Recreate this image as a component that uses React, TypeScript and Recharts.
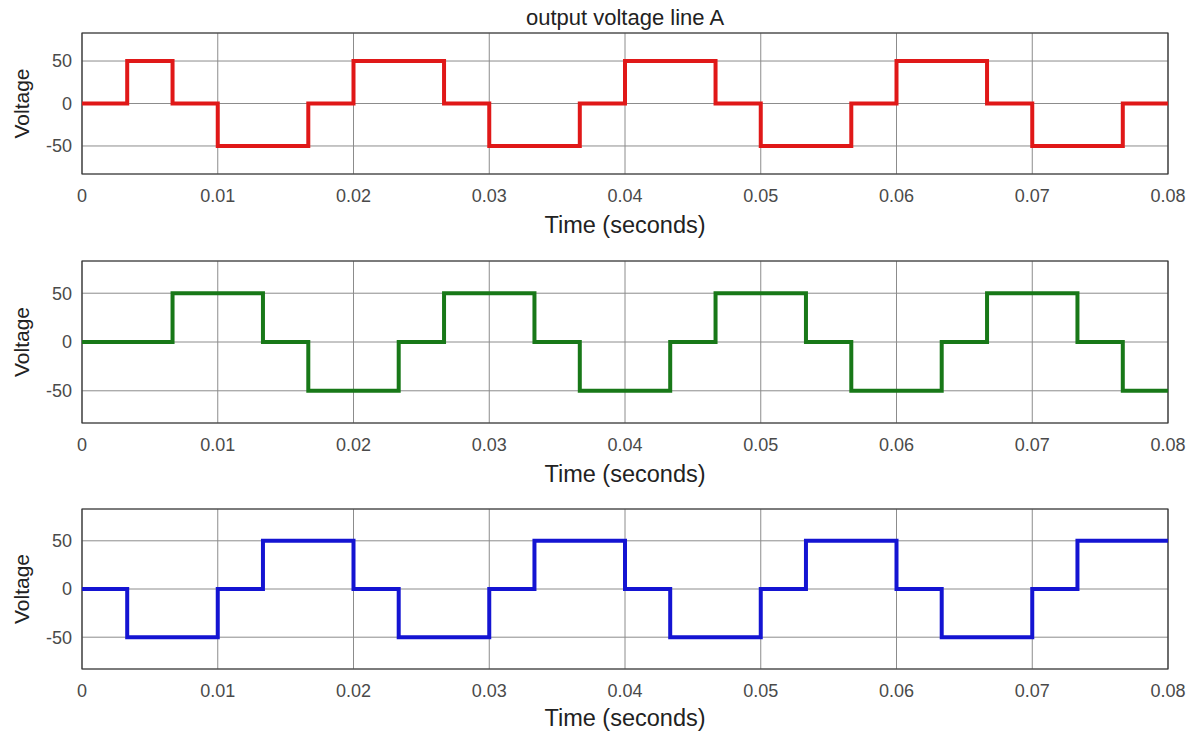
import React from 'react';
import { LineChart, Line, XAxis, YAxis, CartesianGrid, ReferenceArea } from 'recharts';

const timeTicks = [0, 0.01, 0.02, 0.03, 0.04, 0.05, 0.06, 0.07, 0.08];
const voltTicks = [-50, 0, 50];

const redTimes = [0, 0.00333, 0.00667, 0.01, 0.01667, 0.02, 0.02667, 0.03, 0.03667, 0.04, 0.04667, 0.05, 0.05667, 0.06, 0.06667, 0.07, 0.07667, 0.08];
const redLevels = [0, 50, 0, -50, 0, 50, 0, -50, 0, 50, 0, -50, 0, 50, 0, -50, 0, 0];

const greenTimes = [0, 0.00667, 0.01333, 0.01667, 0.02333, 0.02667, 0.03333, 0.03667, 0.04333, 0.04667, 0.05333, 0.05667, 0.06333, 0.06667, 0.07333, 0.07667, 0.08];
const greenLevels = [0, 50, 0, -50, 0, 50, 0, -50, 0, 50, 0, -50, 0, 50, 0, -50, -50];

const blueTimes = [0, 0.00333, 0.01, 0.01333, 0.02, 0.02333, 0.03, 0.03333, 0.04, 0.04333, 0.05, 0.05333, 0.06, 0.06333, 0.07, 0.07333, 0.08];
const blueLevels = [0, -50, 0, 50, 0, -50, 0, 50, 0, -50, 0, 50, 0, -50, 0, 50, 50];

const toData = (ts: number[], vs: number[]) => ts.map((t, i) => ({ t, v: vs[i] }));

const FONT = '"Liberation Sans", Arial, sans-serif';
const Y_MIN = -83;
const Y_MAX = 83;

type PanelProps = {
  top: number;
  height: number;
  marginTop: number;
  xAxisHeight: number;
  labelOffset: number;
  data: { t: number; v: number }[];
  color: string;
};

const fmt = (v: number) => String(Number(v.toFixed(2)));

function Panel({ top, height, marginTop, xAxisHeight, labelOffset, data, color }: PanelProps) {
  return (
    <div style={{ position: 'absolute', left: 0, top, width: 1199, height }}>
      <LineChart width={1199} height={height} data={data} margin={{ top: marginTop, right: 31, left: 0, bottom: 0 }}>
        <CartesianGrid stroke="#8c8c8c" strokeWidth={1} />
        <XAxis
          dataKey="t"
          type="number"
          domain={[0, 0.08]}
          ticks={timeTicks}
          tickFormatter={fmt}
          height={xAxisHeight}
          tickLine={false}
          tickSize={0}
          tickMargin={15}
          axisLine={false}
          interval={0}
          tick={{ fill: '#4a4a4a', fontSize: 18, fontFamily: FONT }}
          label={{ value: 'Time (seconds)', position: 'insideBottom', offset: labelOffset, fill: '#222', fontSize: 23.5, fontFamily: FONT }}
        />
        <YAxis
          type="number"
          domain={[Y_MIN, Y_MAX]}
          ticks={voltTicks}
          width={82}
          tickLine={false}
          tickSize={0}
          tickMargin={10}
          axisLine={false}
          interval={0}
          allowDataOverflow
          tick={{ fill: '#4a4a4a', fontSize: 18, fontFamily: FONT }}
          label={{ value: 'Voltage', angle: -90, position: 'insideLeft', offset: 22, fill: '#222', fontSize: 21, fontFamily: FONT, style: { textAnchor: 'middle' } }}
        />
        <ReferenceArea x1={0} x2={0.08} y1={Y_MIN} y2={Y_MAX} fill="none" stroke="#333" strokeWidth={1.2} fillOpacity={0} />
        <Line
          dataKey="v"
          type="stepAfter"
          stroke={color}
          strokeWidth={4}
          dot={false}
          isAnimationActive={false}
        />
      </LineChart>
    </div>
  );
}

export default function App() {
  return (
    <div style={{ position: 'absolute', left: 0, top: 0, width: 1199, height: 733, background: '#fff', fontFamily: FONT }}>
      <svg width={1199} height={34} style={{ position: 'absolute', left: 0, top: 0 }}>
        <text x={625} y={25} textAnchor="middle" fontSize={22} fontFamily={FONT} fill="#222">
          output voltage line A
        </text>
      </svg>
      <Panel top={0} height={245} marginTop={33} xAxisHeight={71} labelOffset={12} data={toData(redTimes, redLevels)} color="#e01818" />
      <Panel top={245} height={245} marginTop={16} xAxisHeight={67} labelOffset={8} data={toData(greenTimes, greenLevels)} color="#187818" />
      <Panel top={490} height={243} marginTop={19} xAxisHeight={64} labelOffset={7} data={toData(blueTimes, blueLevels)} color="#1414d2" />
    </div>
  );
}
